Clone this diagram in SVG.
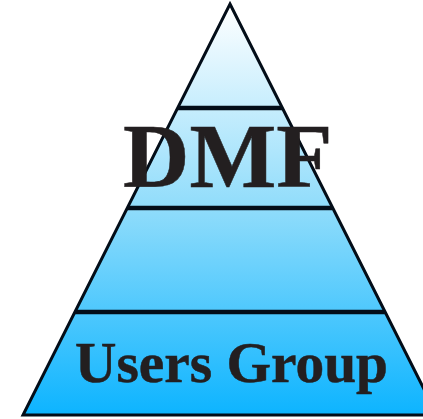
<svg xmlns="http://www.w3.org/2000/svg" width="423" height="419" viewBox="0 0 423 419">
<style>
.t{font-family:"Liberation Serif","Times New Roman",serif;font-weight:bold;fill:#231f20;stroke:#231f20;stroke-width:0.5}
.l{stroke:#030d18;fill:none;stroke-width:4.500}
</style>
<defs><linearGradient id="g" gradientUnits="userSpaceOnUse" x1="0" y1="4" x2="0" y2="415">
<stop offset="0" stop-color="#ffffff"/><stop offset="0.5" stop-color="#8fdcfb"/><stop offset="1" stop-color="#0db4ff"/>
</linearGradient></defs>
<rect width="423" height="419" fill="#ffffff"/>
<g id="pyramid"><polygon points="230,4 437,415 23,415" fill="url(#g)" stroke="#030d18" stroke-width="3" stroke-linejoin="miter"/></g>
<g id="connectors">
<line class="l" x1="178" y1="108" x2="282" y2="108"/>
<line class="l" x1="127" y1="208" x2="332" y2="208"/>
<line class="l" x1="75" y1="312" x2="385" y2="312"/>
</g>
<g id="node-dmf"><text class="t" x="123" y="187" font-size="92">DMF</text></g>
<g id="node-users"><text class="t" x="75" y="382" font-size="57.400">Users Group</text></g>
</svg>
